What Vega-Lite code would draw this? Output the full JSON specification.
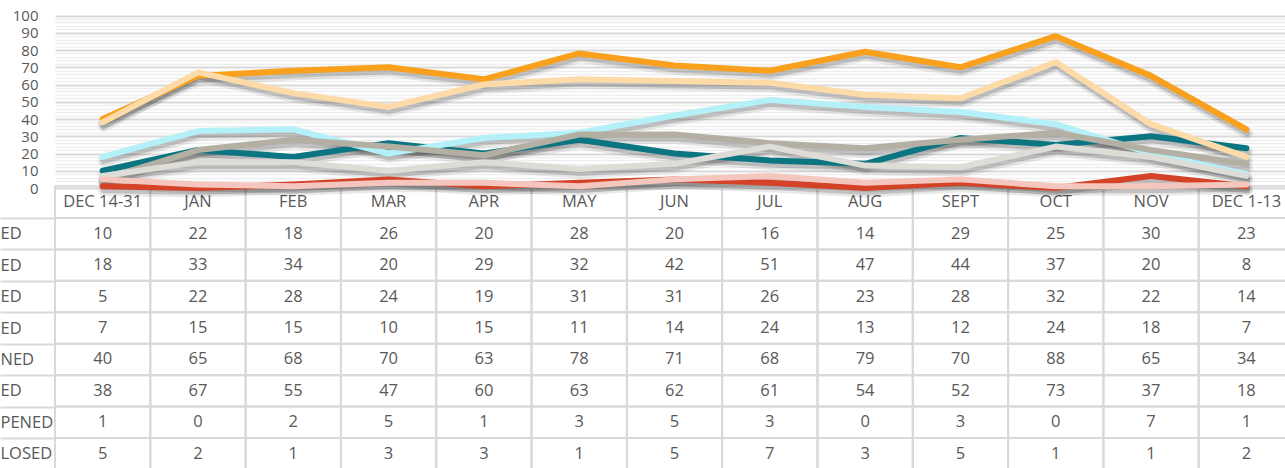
{
  "$schema": "https://vega.github.io/schema/vega-lite/v6.json",
  "width": 1230,
  "height": 468,
  "autosize": {"type": "none"},
  "padding": {"left": 55, "top": 0, "right": 0, "bottom": 0},
  "background": "white",
  "config": {"view": {"stroke": null}, "font": "Open Sans"},
  "datasets": {
    "head": [
      {"cat": "DEC 14-31"}, {"cat": "JAN"}, {"cat": "FEB"}, {"cat": "MAR"}, {"cat": "APR"}, {"cat": "MAY"}, {"cat": "JUN"}, {"cat": "JUL"}, {"cat": "AUG"}, {"cat": "SEPT"}, {"cat": "OCT"}, {"cat": "NOV"}, {"cat": "DEC 1-13"}
    ],
    "vals": [
      {"cat": "DEC 14-31", "s": "1|ED", "v": 10}, {"cat": "JAN", "s": "1|ED", "v": 22}, {"cat": "FEB", "s": "1|ED", "v": 18}, {"cat": "MAR", "s": "1|ED", "v": 26}, {"cat": "APR", "s": "1|ED", "v": 20}, {"cat": "MAY", "s": "1|ED", "v": 28}, {"cat": "JUN", "s": "1|ED", "v": 20}, {"cat": "JUL", "s": "1|ED", "v": 16}, {"cat": "AUG", "s": "1|ED", "v": 14}, {"cat": "SEPT", "s": "1|ED", "v": 29}, {"cat": "OCT", "s": "1|ED", "v": 25}, {"cat": "NOV", "s": "1|ED", "v": 30}, {"cat": "DEC 1-13", "s": "1|ED", "v": 23},
      {"cat": "DEC 14-31", "s": "2|ED", "v": 18}, {"cat": "JAN", "s": "2|ED", "v": 33}, {"cat": "FEB", "s": "2|ED", "v": 34}, {"cat": "MAR", "s": "2|ED", "v": 20}, {"cat": "APR", "s": "2|ED", "v": 29}, {"cat": "MAY", "s": "2|ED", "v": 32}, {"cat": "JUN", "s": "2|ED", "v": 42}, {"cat": "JUL", "s": "2|ED", "v": 51}, {"cat": "AUG", "s": "2|ED", "v": 47}, {"cat": "SEPT", "s": "2|ED", "v": 44}, {"cat": "OCT", "s": "2|ED", "v": 37}, {"cat": "NOV", "s": "2|ED", "v": 20}, {"cat": "DEC 1-13", "s": "2|ED", "v": 8},
      {"cat": "DEC 14-31", "s": "3|ED", "v": 5}, {"cat": "JAN", "s": "3|ED", "v": 22}, {"cat": "FEB", "s": "3|ED", "v": 28}, {"cat": "MAR", "s": "3|ED", "v": 24}, {"cat": "APR", "s": "3|ED", "v": 19}, {"cat": "MAY", "s": "3|ED", "v": 31}, {"cat": "JUN", "s": "3|ED", "v": 31}, {"cat": "JUL", "s": "3|ED", "v": 26}, {"cat": "AUG", "s": "3|ED", "v": 23}, {"cat": "SEPT", "s": "3|ED", "v": 28}, {"cat": "OCT", "s": "3|ED", "v": 32}, {"cat": "NOV", "s": "3|ED", "v": 22}, {"cat": "DEC 1-13", "s": "3|ED", "v": 14},
      {"cat": "DEC 14-31", "s": "4|ED", "v": 7}, {"cat": "JAN", "s": "4|ED", "v": 15}, {"cat": "FEB", "s": "4|ED", "v": 15}, {"cat": "MAR", "s": "4|ED", "v": 10}, {"cat": "APR", "s": "4|ED", "v": 15}, {"cat": "MAY", "s": "4|ED", "v": 11}, {"cat": "JUN", "s": "4|ED", "v": 14}, {"cat": "JUL", "s": "4|ED", "v": 24}, {"cat": "AUG", "s": "4|ED", "v": 13}, {"cat": "SEPT", "s": "4|ED", "v": 12}, {"cat": "OCT", "s": "4|ED", "v": 24}, {"cat": "NOV", "s": "4|ED", "v": 18}, {"cat": "DEC 1-13", "s": "4|ED", "v": 7},
      {"cat": "DEC 14-31", "s": "5|NED", "v": 40}, {"cat": "JAN", "s": "5|NED", "v": 65}, {"cat": "FEB", "s": "5|NED", "v": 68}, {"cat": "MAR", "s": "5|NED", "v": 70}, {"cat": "APR", "s": "5|NED", "v": 63}, {"cat": "MAY", "s": "5|NED", "v": 78}, {"cat": "JUN", "s": "5|NED", "v": 71}, {"cat": "JUL", "s": "5|NED", "v": 68}, {"cat": "AUG", "s": "5|NED", "v": 79}, {"cat": "SEPT", "s": "5|NED", "v": 70}, {"cat": "OCT", "s": "5|NED", "v": 88}, {"cat": "NOV", "s": "5|NED", "v": 65}, {"cat": "DEC 1-13", "s": "5|NED", "v": 34},
      {"cat": "DEC 14-31", "s": "6|ED", "v": 38}, {"cat": "JAN", "s": "6|ED", "v": 67}, {"cat": "FEB", "s": "6|ED", "v": 55}, {"cat": "MAR", "s": "6|ED", "v": 47}, {"cat": "APR", "s": "6|ED", "v": 60}, {"cat": "MAY", "s": "6|ED", "v": 63}, {"cat": "JUN", "s": "6|ED", "v": 62}, {"cat": "JUL", "s": "6|ED", "v": 61}, {"cat": "AUG", "s": "6|ED", "v": 54}, {"cat": "SEPT", "s": "6|ED", "v": 52}, {"cat": "OCT", "s": "6|ED", "v": 73}, {"cat": "NOV", "s": "6|ED", "v": 37}, {"cat": "DEC 1-13", "s": "6|ED", "v": 18},
      {"cat": "DEC 14-31", "s": "7|PENED", "v": 1}, {"cat": "JAN", "s": "7|PENED", "v": 0}, {"cat": "FEB", "s": "7|PENED", "v": 2}, {"cat": "MAR", "s": "7|PENED", "v": 5}, {"cat": "APR", "s": "7|PENED", "v": 1}, {"cat": "MAY", "s": "7|PENED", "v": 3}, {"cat": "JUN", "s": "7|PENED", "v": 5}, {"cat": "JUL", "s": "7|PENED", "v": 3}, {"cat": "AUG", "s": "7|PENED", "v": 0}, {"cat": "SEPT", "s": "7|PENED", "v": 3}, {"cat": "OCT", "s": "7|PENED", "v": 0}, {"cat": "NOV", "s": "7|PENED", "v": 7}, {"cat": "DEC 1-13", "s": "7|PENED", "v": 1},
      {"cat": "DEC 14-31", "s": "8|LOSED", "v": 5}, {"cat": "JAN", "s": "8|LOSED", "v": 2}, {"cat": "FEB", "s": "8|LOSED", "v": 1}, {"cat": "MAR", "s": "8|LOSED", "v": 3}, {"cat": "APR", "s": "8|LOSED", "v": 3}, {"cat": "MAY", "s": "8|LOSED", "v": 1}, {"cat": "JUN", "s": "8|LOSED", "v": 5}, {"cat": "JUL", "s": "8|LOSED", "v": 7}, {"cat": "AUG", "s": "8|LOSED", "v": 3}, {"cat": "SEPT", "s": "8|LOSED", "v": 5}, {"cat": "OCT", "s": "8|LOSED", "v": 1}, {"cat": "NOV", "s": "8|LOSED", "v": 1}, {"cat": "DEC 1-13", "s": "8|LOSED", "v": 2}
    ]
  },
  "resolve": {"scale": {"y": "independent"}, "axis": {"y": "independent"}},
  "layer": [
    {
      "layer": [
        {
          "data": {"name": "vals"},
          "mark": {"type": "rect", "fill": "transparent", "stroke": "#D9D9D9", "strokeWidth": 2},
          "encoding": {
            "x": {"field": "cat", "type": "nominal", "axis": null,
              "scale": {"type": "band", "domain": ["DEC 14-31", "JAN", "FEB", "MAR", "APR", "MAY", "JUN", "JUL", "AUG", "SEPT", "OCT", "NOV", "DEC 1-13"], "range": [0, 1239], "paddingInner": 0, "paddingOuter": 0}},
            "y": {"field": "s", "type": "nominal",
              "scale": {"type": "band", "domain": ["0|", "1|ED", "2|ED", "3|ED", "4|ED", "5|NED", "6|ED", "7|PENED", "8|LOSED"], "range": [186.5, 469.5], "paddingInner": 0, "paddingOuter": 0},
              "axis": {"title": null, "orient": "left", "domain": false, "ticks": true, "tickBand": "extent", "tickSize": 55, "tickWidth": 2,
                "tickColor": {"condition": {"test": "datum.extra", "value": "transparent"}, "value": "#D9D9D9"},
                "grid": false, "labelAlign": "left", "labelPadding": 0, "labelExpr": "split(datum.value, '|')[1]", "labelFont": "Open Sans", "labelFontSize": 16.5, "labelColor": "#595959", "labelBaseline": "middle"}}
          }
        },
        {
          "data": {"name": "head"},
          "mark": {"type": "rect", "fill": "transparent", "stroke": "#D9D9D9", "strokeWidth": 2},
          "encoding": {
            "x": {"field": "cat", "type": "nominal", "axis": null},
            "y": {"datum": "0|", "type": "nominal"}
          }
        },
        {
          "data": {"name": "head"},
          "mark": {"type": "text", "font": "Open Sans", "fontSize": 16.5, "fill": "#595959", "baseline": "middle"},
          "encoding": {
            "x": {"field": "cat", "type": "nominal", "axis": null},
            "y": {"datum": "0|", "type": "nominal"},
            "text": {"field": "cat"}
          }
        },
        {
          "data": {"name": "vals"},
          "mark": {"type": "text", "font": "Open Sans", "fontSize": 16.5, "fill": "#595959", "baseline": "middle"},
          "encoding": {
            "x": {"field": "cat", "type": "nominal", "axis": null},
            "y": {"field": "s", "type": "nominal"},
            "text": {"field": "v", "type": "quantitative"}
          }
        }
      ]
    },
    {
      "resolve": {"axis": {"y": "independent"}},
      "layer": [
        {
          "data": {"name": "vals"},
          "mark": {"type": "line", "stroke": "#000000", "opacity": 0.09, "strokeWidth": 11, "xOffset": 1, "yOffset": 4, "strokeCap": "round", "strokeJoin": "round"},
          "encoding": {
            "x": {"field": "cat", "type": "nominal", "axis": null},
            "y": {"field": "v", "type": "quantitative",
              "scale": {"domain": [0, 100], "range": [188, 15.5], "nice": false, "zero": true},
              "axis": {"title": null, "orient": "left", "tickCount": 60, "values": [2, 4, 6, 8, 12, 14, 16, 18, 22, 24, 26, 28, 32, 34, 36, 38, 42, 44, 46, 48, 52, 54, 56, 58, 62, 64, 66, 68, 72, 74, 76, 78, 82, 84, 86, 88, 92, 94, 96, 98],
                "domain": false, "ticks": false, "labels": false,
                "grid": true, "gridColor": "#EEEEEE", "gridWidth": 1.5}},
            "detail": {"field": "s", "type": "nominal"}
          }
        },
        {
          "data": {"name": "vals"},
          "mark": {"type": "line", "stroke": "#000000", "opacity": 0.16, "strokeWidth": 6, "xOffset": 1, "yOffset": 4, "strokeCap": "round", "strokeJoin": "round"},
          "encoding": {
            "x": {"field": "cat", "type": "nominal", "axis": null},
            "y": {"field": "v", "type": "quantitative",
              "axis": {"title": null, "orient": "left", "tickCount": 20, "values": [0, 10, 20, 30, 40, 50, 60, 70, 80, 90, 100],
                "domain": false, "ticks": false, "labelPadding": 17, "labelOverlap": false, "labelFlush": false, "labelBound": false,
                "labelFont": "Open Sans", "labelFontSize": 15, "labelColor": "#595959",
                "grid": true, "gridColor": "#D9D9D9", "gridWidth": 2}},
            "detail": {"field": "s", "type": "nominal"}
          }
        },
        {
          "data": {"name": "vals"},
          "mark": {"type": "line", "strokeWidth": 6, "strokeCap": "round", "strokeJoin": "round"},
          "encoding": {
            "x": {"field": "cat", "type": "nominal", "axis": null},
            "y": {"field": "v", "type": "quantitative", "axis": null},
            "color": {"field": "s", "type": "nominal", "legend": null,
              "scale": {"domain": ["1|ED", "2|ED", "3|ED", "4|ED", "5|NED", "6|ED", "7|PENED", "8|LOSED"],
                "range": ["#0B7582", "#B3F0F7", "#B4AFA3", "#DDDCD6", "#F9A11C", "#FDDBA9", "#D44328", "#F4C6BD"]}}
          }
        }
      ]
    }
  ]
}
